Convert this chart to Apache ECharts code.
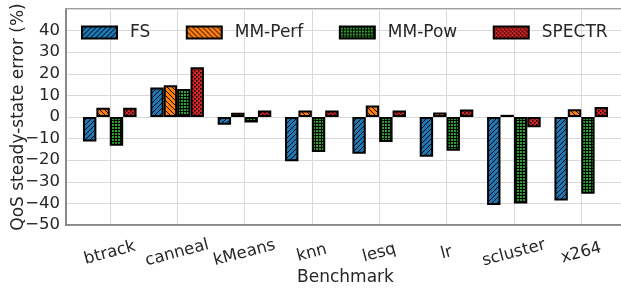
<!DOCTYPE html>
<html>
<head>
<meta charset="utf-8">
<title>QoS steady-state error</title>
<script src="https://cdn.jsdelivr.net/npm/echarts@6/dist/echarts.min.js"></script>
<style>
  html, body { margin: 0; padding: 0; background: #fff; }
  #chart { width: 621px; height: 288px; }
</style>
</head>
<body>
<div id="chart"></div>
<script>
// benchmarks on the x axis
const benchmarks = ["btrack", "canneal", "kMeans", "knn", "lesq", "lr", "scluster", "x264"];
// error values (%)
const fsValues = [-11.3, 13.6, -3.6, -20.5, -17.0, -18.4, -40.7, -38.7];
const mmPerfValues = [4.3, 14.7, 2.0, 3.0, 5.3, 2.1, 1.0, 3.6];
const mmPowValues = [-13.3, 13.0, -2.5, -16.2, -11.6, -15.6, -40.1, -35.5];
const spectrValues = [4.3, 23.0, 3.0, 3.0, 3.0, 3.5, -4.8, 4.6];
const yTicks = [-50, -40, -30, -20, -10, 0, 10, 20, 30, 40];

// hatch tiles, like matplotlib hatch='///', '\\\\', '++', 'oo'
function hatchTile(fill, kind) {
  const size = kind === "grid" ? 3 : kind === "dots" ? 4 : 5;
  const c = document.createElement("canvas");
  c.width = size;
  c.height = size;
  const ctx = c.getContext("2d");
  ctx.fillStyle = fill;
  ctx.fillRect(0, 0, size, size);
  ctx.strokeStyle = "#000";
  ctx.fillStyle = "#000";
  ctx.lineWidth = 1;
  if (kind === "fwd" || kind === "back") {
    ctx.beginPath();
    const segs = kind === "fwd"
      ? [[-1, 1, 1, -1], [0, size, size, 0], [size - 1, size + 1, size + 1, size - 1]]
      : [[-1, size - 1, 1, size + 1], [0, 0, size, size], [size - 1, -1, size + 1, 1]];
    segs.forEach(s => { ctx.moveTo(s[0], s[1]); ctx.lineTo(s[2], s[3]); });
    ctx.stroke();
  } else if (kind === "grid") {
    ctx.fillRect(0, 0, size, 1);
    ctx.fillRect(0, 0, 1, size);
  } else {
    ctx.fillRect(0, 0, 1.5, 1.5);
    ctx.fillRect(2, 2, 1.5, 1.5);
  }
  return { image: c, repeat: "repeat" };
}

const seriesDefs = [
  { name: "FS", values: fsValues, color: hatchTile("#1f77b4", "fwd") },
  { name: "MM-Perf", values: mmPerfValues, color: hatchTile("#ff7f0e", "back") },
  { name: "MM-Pow", values: mmPowValues, color: hatchTile("#2ca02c", "grid") },
  { name: "SPECTR", values: spectrValues, color: hatchTile("#d62728", "dots") },
];

const chart = echarts.init(document.getElementById("chart"), null, { renderer: "canvas" });
const font = "DejaVu Sans";
const xIdx = benchmarks.map((b, i) => i);

const option = {
  animation: false,
  backgroundColor: "#fff",
  grid: {
    left: 66,
    right: -4,
    top: 9,
    bottom: 63,
    outerBoundsMode: "none",
    containLabel: false,
    show: true,
    borderColor: "#808080",
    borderWidth: 1.5,
  },
  legend: {
    left: 81,
    top: 24,
    padding: 0,
    icon: "rect",
    itemWidth: 35,
    itemHeight: 12,
    itemGap: 35.5,
    textStyle: { fontFamily: font, fontSize: 17, color: "#262626", padding: [0, 0, 0, 8] },
    data: seriesDefs.map(s => s.name),
  },
  xAxis: {
    type: "value",
    min: -0.65,
    max: 7.65,
    name: "Benchmark",
    nameLocation: "middle",
    nameGap: 44,
    nameMoveOverlap: false,
    nameTextStyle: { fontFamily: font, fontSize: 17, color: "#262626" },
    axisLine: { show: true, onZero: false, lineStyle: { color: "#808080", width: 1.5 } },
    axisTick: { show: false, customValues: xIdx },
    axisLabel: {
      customValues: xIdx,
      rotate: 15,
      align: "center",
      verticalAlign: "middle",
      margin: 28,
      fontFamily: font,
      fontSize: 16.5,
      color: "#262626",
      formatter: v => benchmarks[Math.round(v)],
    },
    splitLine: { show: true, lineStyle: { color: "#d9d9d9", width: 1 } },
  },
  yAxis: {
    type: "value",
    min: -50,
    max: 50,
    interval: 10,
    name: "QoS steady-state error (%)",
    nameLocation: "middle",
    nameGap: 39,
    nameMoveOverlap: false,
    nameTextStyle: { fontFamily: font, fontSize: 17, color: "#262626" },
    axisLine: { show: true, onZero: false, lineStyle: { color: "#808080", width: 1.5 } },
    axisTick: { show: false },
    axisLabel: {
      showMaxLabel: false,
      margin: 6,
      fontFamily: font,
      fontSize: 16.5,
      color: "#262626",
      formatter: v => (yTicks.indexOf(v) >= 0 ? String(v).replace("-", "\u2212") : ""),
    },
    splitLine: { show: true, lineStyle: { color: "#d9d9d9", width: 1 } },
  },
  series: seriesDefs.map(s => ({
    name: s.name,
    type: "bar",
    barWidth: 13.4,
    barGap: "0%",
    itemStyle: { color: s.color, borderColor: "#000", borderWidth: 2 },
    data: s.values.map((v, i) => [i, v]),
  })),
};

chart.setOption(option);
</script>
</body>
</html>
